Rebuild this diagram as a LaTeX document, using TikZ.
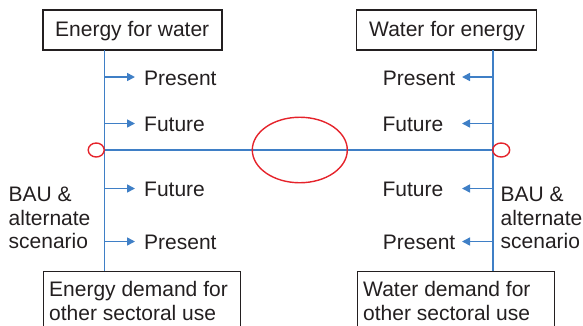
\documentclass[tikz,border=0pt]{standalone}
\usepackage{fontspec}
\setmainfont{Liberation Sans}
\usetikzlibrary{arrows.meta,shapes.geometric}
\definecolor{axisblue}{HTML}{3F7FC6}
\definecolor{ringred}{HTML}{E5232B}
\definecolor{ink}{HTML}{231F20}
\tikzset{
  x=1pt, y=-1pt,
  every node/.style={font=\fontsize{21}{24}\selectfont, text=ink},
  framebox/.style={draw=ink, line width=1.2pt, inner sep=0pt},
  axis/.style={draw=axisblue, line width=1.6pt},
  tick/.style={draw=axisblue, line width=1.6pt, -{Triangle[length=8pt,width=8pt]}},
  ring/.style={draw=ringred, line width=1.4pt},
  lbl/.style={inner sep=0pt, anchor=base west},
  rlbl/.style={inner sep=0pt, anchor=base east},
}
\begin{document}
\begin{tikzpicture}
\useasboundingbox (0,0) rectangle (583,325);
\clip (0,0) rectangle (583,325);

% title boxes
\node[framebox, minimum width=179pt, minimum height=40pt] (efw) at (132.5,30) {};
\node[lbl] (efwt) at (55,36) {Energy for water};
\node[framebox, minimum width=179.5pt, minimum height=40pt] (wfe) at (446.5,30) {};
\node[lbl] (wfet) at (369,36) {Water for energy};

% demand boxes (running off the lower edge); base anchor sits on the last line
\node[framebox, anchor=north west, minimum width=197.5pt, minimum height=70pt] (edb) at (42.5,271) {};
\node[lbl, align=left] (edt) at (49,320.7) {Energy demand for\\other sectoral use};
\node[framebox, anchor=north west, minimum width=196.5pt, minimum height=70pt] (wdb) at (357,271) {};
\node[lbl, align=left] (wdt) at (363,320.7) {Water demand for\\other sectoral use};

% axes
\coordinate (lt) at (104.3,50);
\coordinate (lb) at (104.3,271);
\coordinate (rt) at (492.7,50);
\coordinate (rb) at (492.7,271);
\coordinate (lm) at (104.3,150);
\coordinate (rm) at (492.7,150);
\draw[axis] (lt) -- (lb);
\draw[axis] (rt) -- (rb);
\draw[axis] (lm) -- (rm);

% rings on the middle line
\node[ring, ellipse, minimum width=95pt, minimum height=65.5pt, inner sep=0pt] (mid) at (299.8,150) {};
\node[ring, ellipse, minimum width=16pt, minimum height=14pt, inner sep=0pt] (lring) at (96.2,150) {};
\node[ring, ellipse, minimum width=17pt, minimum height=14pt, inner sep=0pt] (rring) at (501.2,150) {};

% left branches
\coordinate (l1) at (104.3,77);
\coordinate (l2) at (104.3,123.5);
\coordinate (l3) at (104.3,188.5);
\coordinate (l4) at (104.3,241.5);
\node[lbl] (lp1) at (144,85) {Present};
\node[lbl] (lf1) at (144,131.5) {Future};
\node[lbl] (lf2) at (144,196.7) {Future};
\node[lbl] (lp2) at (144,249.5) {Present};
\draw[tick] (l1) -- (135,77);
\draw[tick] (l2) -- (135,123.5);
\draw[tick] (l3) -- (135,188.5);
\draw[tick] (l4) -- (135,241.5);

% right branches
\coordinate (r1) at (492.7,77);
\coordinate (r2) at (492.7,123.5);
\coordinate (r3) at (492.7,188.5);
\coordinate (r4) at (492.7,241.5);
\node[rlbl] (rp1) at (455.5,85) {Present};
\node[rlbl] (rf1) at (443.5,131.5) {Future};
\node[rlbl] (rf2) at (443.5,196.7) {Future};
\node[rlbl] (rp2) at (455.5,249.5) {Present};
\draw[tick] (r1) -- (462,77);
\draw[tick] (r2) -- (462,123.5);
\draw[tick] (r3) -- (462,188.5);
\draw[tick] (r4) -- (462,241.5);

% scenario notes
\node[lbl, align=left, font=\fontsize{21}{23.4}\selectfont] (lnote) at (8.5,248.5) {BAU \&\\alternate\\scenario};
\node[lbl, align=left, font=\fontsize{21}{23.4}\selectfont] (rnote) at (500.5,248.5) {BAU \&\\alternate\\scenario};
\end{tikzpicture}
\end{document}
